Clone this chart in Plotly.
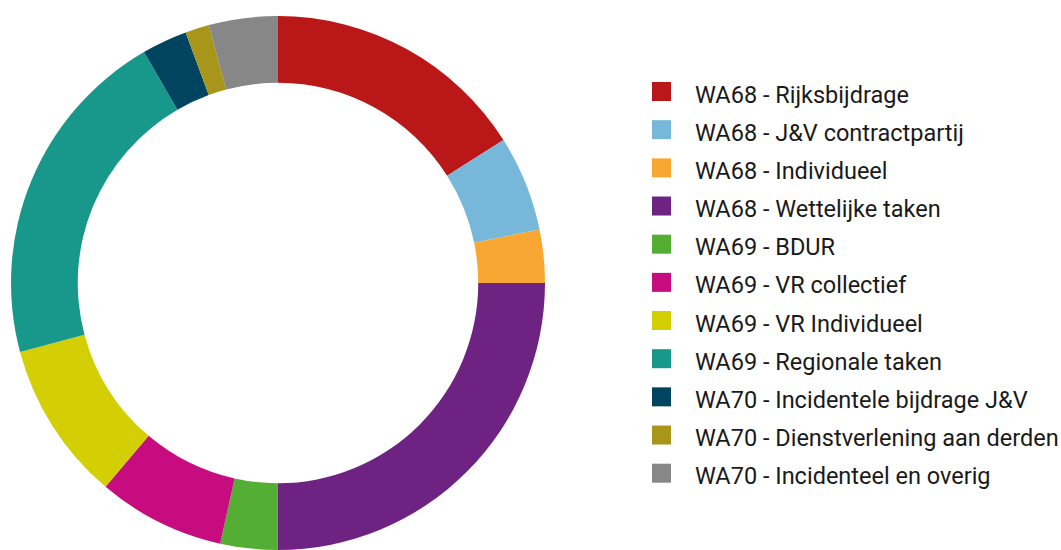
import plotly.graph_objects as go

labels = [
    "WA68 - Rijksbijdrage",
    "WA68 - J&V contractpartij",
    "WA68 - Individueel",
    "WA68 - Wettelijke taken",
    "WA69 - BDUR",
    "WA69 - VR collectief",
    "WA69 - VR Individueel",
    "WA69 - Regionale taken",
    "WA70 - Incidentele bijdrage J&V",
    "WA70 - Dienstverlening aan derden",
    "WA70 - Incidenteel en overig",
]
values = [16.0, 5.78, 3.22, 25.0, 3.47, 7.7, 9.67, 20.78, 2.75, 1.45, 4.17]
colors = [
    "#BA1818", "#77B8DA", "#F8A732", "#6E2382", "#55AE34", "#C60C7E",
    "#D4CF04", "#18988B", "#01445F", "#A8961A", "#878787",
]

W, H = 1061, 550
fig = go.Figure(go.Pie(
    labels=labels,
    values=values,
    hole=0.75,
    sort=False,
    direction="clockwise",
    rotation=0,
    marker=dict(colors=colors, line=dict(width=0)),
    textinfo="none",
    hoverinfo="label+percent",
    showlegend=False,
    domain=dict(x=[10 / W, 546 / W], y=[0, 1 - 16 / H]),
))

# custom legend
sq = 19
x0 = 652
y_first = 91.5
step = 38.17
shapes = []
annotations = []
for i, (lab, col) in enumerate(zip(labels, colors)):
    yc = y_first + i * step
    shapes.append(dict(
        type="rect", xref="paper", yref="paper",
        x0=x0 / W, x1=(x0 + sq) / W,
        y0=1 - (yc + sq / 2) / H, y1=1 - (yc - sq / 2) / H,
        fillcolor=col, line=dict(width=0),
    ))
    annotations.append(dict(
        text=lab, xref="paper", yref="paper",
        x=693 / W, y=1 - (yc + 3) / H,
        xanchor="left", yanchor="middle", showarrow=False,
        font=dict(family="Roboto", size=23.5, color="#1a1a1a"),
    ))

fig.update_layout(
    width=W, height=H,
    margin=dict(l=0, r=0, t=0, b=0),
    paper_bgcolor="white",
    plot_bgcolor="white",
    shapes=shapes,
    annotations=annotations,
)
fig.write_html(
    "out.html",
    config={"displayModeBar": False},
    post_script="document.body.style.margin='0';document.body.style.padding='0';",
)
